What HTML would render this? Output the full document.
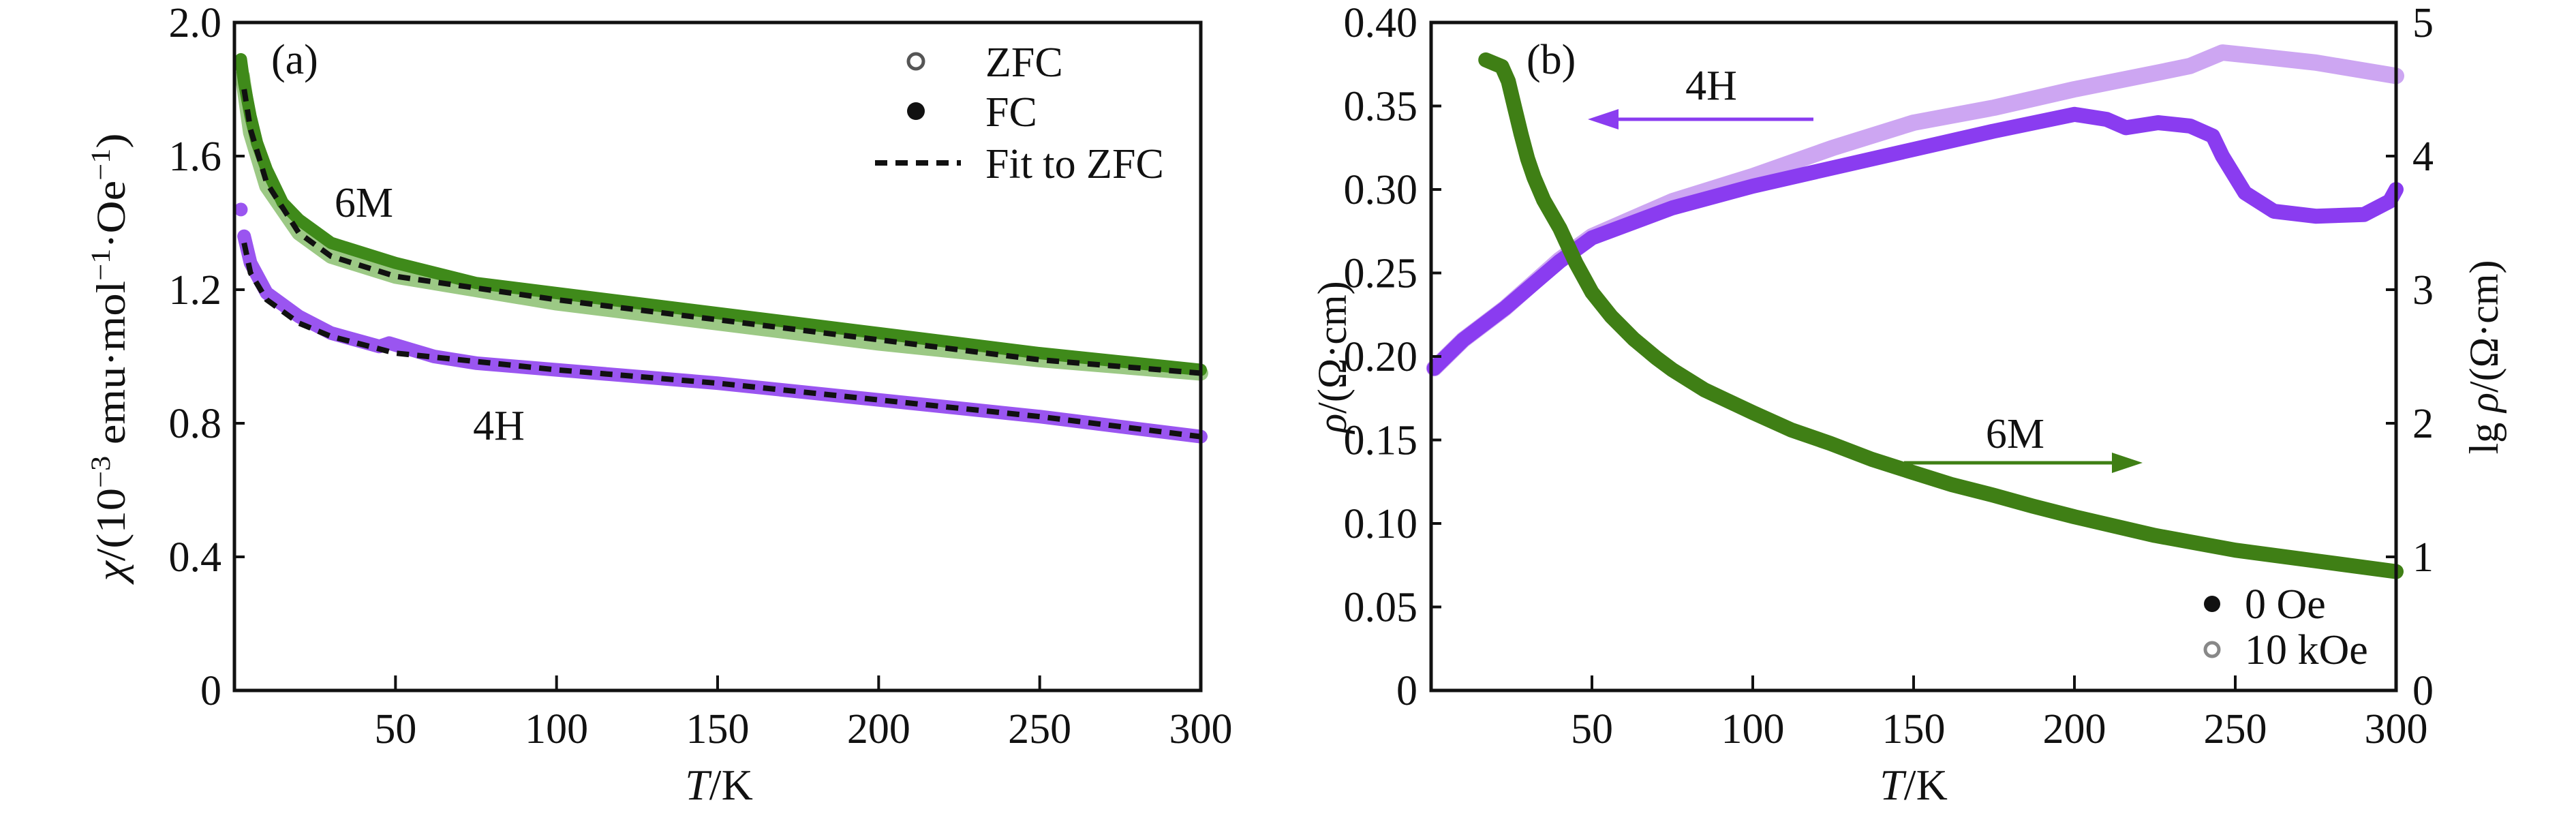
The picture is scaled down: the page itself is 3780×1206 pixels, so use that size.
<!DOCTYPE html>
<html><head><meta charset="utf-8"><style>
html,body{margin:0;padding:0;background:#fff;}
svg text{font-family:"Liberation Serif","Times New Roman","DejaVu Serif","Noto Serif CJK SC",serif;fill:#111;}
</style></head><body>
<svg id="chart" width="3780" height="1201" viewBox="0 0 3780 1201" xmlns="http://www.w3.org/2000/svg"></svg>
<script>
// ---- Panel (a) data ----
const aTicksX = [50,100,150,200,250,300];
const aTicksY = [0,0.4,0.8,1.2,1.6,2.0];
const aTickLabelsY = ["0","0.4","0.8","1.2","1.6","2.0"];
const m6T_fc = [2,3,5,7,10,15,20,30,50,75,100,150,200,250,300];
const m6V_fc = [1.89,1.82,1.72,1.64,1.56,1.46,1.41,1.34,1.28,1.22,1.19,1.13,1.07,1.01,0.96];
const m6T_zfc = [2.5,5,10,20,30,50,100,150,200,250,300];
const m6V_zfc = [1.84,1.67,1.51,1.37,1.30,1.24,1.16,1.10,1.04,0.99,0.95];
const m6T_fit = [3,5,10,20,30,50,100,150,200,250,300];
const m6V_fit = [1.80,1.68,1.52,1.37,1.30,1.24,1.17,1.11,1.05,0.99,0.95];
const h4T = [3,5,10,20,30,45,48,55,62,75,100,150,200,250,300];
const h4V = [1.36,1.28,1.19,1.12,1.07,1.03,1.04,1.02,1.00,0.98,0.96,0.92,0.87,0.82,0.76];
const h4FirstT = [2];
const h4FirstV = [1.44];
const h4T_fit = [3,5,10,20,30,50,100,150,200,250,300];
const h4V_fit = [1.34,1.25,1.17,1.10,1.06,1.01,0.96,0.92,0.87,0.82,0.76];
// ---- Panel (b) data ----
const bTicksX = [50,100,150,200,250,300];
const bTicksYL = [0,0.05,0.10,0.15,0.20,0.25,0.30,0.35,0.40];
const bTickLabelsYL = ["0","0.05","0.10","0.15","0.20","0.25","0.30","0.35","0.40"];
const bTicksYR = [0,1,2,3,4,5];
const m6bT = [17,20,22,24,26,28,30,32,35,40,45,50,56,63,70,75,85,100,112,124,137,150,162,175,187,200,225,250,275,300];
const m6bLg = [4.72,4.69,4.67,4.56,4.36,4.16,3.98,3.84,3.67,3.46,3.20,2.98,2.80,2.63,2.49,2.40,2.25,2.08,1.95,1.85,1.73,1.63,1.54,1.46,1.38,1.30,1.16,1.05,0.97,0.89];
const h4bT0 = [1,10,23,40,50,75,100,150,175,200,210,216,226,236,243,246,253,262,275,290,298,300];
const h4bR0 = [0.193,0.210,0.229,0.257,0.271,0.289,0.302,0.324,0.335,0.345,0.342,0.337,0.340,0.338,0.332,0.320,0.298,0.287,0.284,0.285,0.293,0.300];
const h4bT10 = [1,10,23,40,50,75,100,125,150,175,200,226,236,246,256,275,300];
const h4bR10 = [0.193,0.210,0.229,0.258,0.272,0.293,0.308,0.325,0.340,0.349,0.360,0.370,0.374,0.382,0.380,0.376,0.368];

const svg = document.getElementById('chart');
const NS = "http://www.w3.org/2000/svg";
function mk(tag, attrs, parent){const e=document.createElementNS(NS,tag);for(const k in attrs)e.setAttribute(k,attrs[k]);(parent||svg).appendChild(e);return e;}

const TOP=33, BOT=1013;
const A={x0:344,x1:1762}, B={x0:2100,x1:3516};
function sx(P,t){return P.x0+(t/300)*(P.x1-P.x0);}
const syA=v=>BOT-(v/2.0)*(BOT-TOP);
const syBL=v=>BOT-(v/0.40)*(BOT-TOP);
const syBR=v=>BOT-(v/5)*(BOT-TOP);
function pts(P,ts,vs,sy){return ts.map((t,i)=>sx(P,t).toFixed(1)+","+sy(vs[i]).toFixed(1)).join(" ");}

// ---------- Panel a ----------
let l;
l=mk('polyline',{points:pts(A,m6T_zfc,m6V_zfc,syA),fill:'none',stroke:'#9cc985','stroke-width':22,'stroke-linejoin':'round','stroke-linecap':'round'});

l=mk('polyline',{points:pts(A,m6T_fc,m6V_fc,syA),fill:'none',stroke:'#3f8a1a','stroke-width':18,'stroke-linejoin':'round','stroke-linecap':'round'});

l=mk('polyline',{points:pts(A,h4T,h4V,syA),fill:'none',stroke:'#9a55f0','stroke-width':20,'stroke-linejoin':'round','stroke-linecap':'round'});

h4FirstT.forEach((t,i)=>{const c=mk('circle',{cx:sx(A,t),cy:syA(h4FirstV[i]),r:10,fill:'#9a55f0'});

});
l=mk('polyline',{points:pts(A,m6T_fit,m6V_fit,syA),fill:'none',stroke:'#111','stroke-width':8,'stroke-dasharray':'18 12'});

l=mk('polyline',{points:pts(A,h4T_fit,h4V_fit,syA),fill:'none',stroke:'#111','stroke-width':8,'stroke-dasharray':'18 12'});


function frame(P,name){const r=mk('rect',{x:P.x0,y:TOP,width:P.x1-P.x0,height:BOT-TOP,fill:'none',stroke:'#111','stroke-width':5});
}
frame(A,'plot-frame-a');
aTicksX.forEach(t=>{const x=sx(A,t);mk('line',{x1:x,y1:BOT,x2:x,y2:BOT-22,stroke:'#111','stroke-width':4});
const tx=mk('text',{x:x,y:1090,'font-size':62,'text-anchor':'middle'});tx.textContent=t;

});
aTicksY.forEach((v,i)=>{const y=syA(v);mk('line',{x1:A.x0,y1:y,x2:A.x0+15,y2:y,stroke:'#111','stroke-width':4});
const tx=mk('text',{x:325,y:y+21,'font-size':62,'text-anchor':'end'});tx.textContent=aTickLabelsY[i];

});

svg.insertAdjacentHTML('beforeend', `
<g>
<text x="1055" y="1173" font-size="64" text-anchor="middle"><tspan font-style="italic">T</tspan>/K</text>
<text transform="translate(183,524) rotate(-90)" font-size="60" text-anchor="middle" textLength="657" lengthAdjust="spacingAndGlyphs"><tspan font-style="italic">χ</tspan>/(10<tspan dy="-22" font-size="40">−3</tspan><tspan dy="22"> emu·mol</tspan><tspan dy="-22" font-size="40">−1</tspan><tspan dy="22">·Oe</tspan><tspan dy="-22" font-size="40">−1</tspan><tspan dy="22">)</tspan></text>
<text x="398" y="108" font-size="62">(a)</text>
<text x="534" y="318" font-size="62" text-anchor="middle">6M</text>
<text x="732" y="645" font-size="62" text-anchor="middle">4H</text>
<g>
<circle cx="1344" cy="90" r="11" fill="none" stroke="#555" stroke-width="5"/>
<text x="1446" y="112" font-size="62">ZFC</text>
<circle cx="1344" cy="163" r="13" fill="#111"/>
<text x="1446" y="185" font-size="62">FC</text>
<line x1="1284" y1="239" x2="1410" y2="239" stroke="#111" stroke-width="8" stroke-dasharray="18 12"/>
<text x="1446" y="261" font-size="62">Fit to ZFC</text>
</g>
</g>`);

// ---------- Panel b ----------
l=mk('polyline',{points:pts(B,h4bT10,h4bR10,syBL),fill:'none',stroke:'#cda6f2','stroke-width':24,'stroke-linejoin':'round','stroke-linecap':'round'});

l=mk('polyline',{points:pts(B,h4bT0,h4bR0,syBL),fill:'none',stroke:'#8a3cf0','stroke-width':22,'stroke-linejoin':'round','stroke-linecap':'round'});

l=mk('polyline',{points:pts(B,m6bT,m6bLg,syBR),fill:'none',stroke:'#3f7f15','stroke-width':22,'stroke-linejoin':'round','stroke-linecap':'round'});

frame(B,'plot-frame-b');
bTicksX.forEach(t=>{const x=sx(B,t);mk('line',{x1:x,y1:BOT,x2:x,y2:BOT-22,stroke:'#111','stroke-width':4});
const tx=mk('text',{x:x,y:1090,'font-size':62,'text-anchor':'middle'});tx.textContent=t;

});
bTicksYL.forEach((v,i)=>{const y=syBL(v);mk('line',{x1:B.x0,y1:y,x2:B.x0+15,y2:y,stroke:'#111','stroke-width':4});
const tx=mk('text',{x:2080,y:y+21,'font-size':62,'text-anchor':'end'});tx.textContent=bTickLabelsYL[i];

});
bTicksYR.forEach(v=>{const y=syBR(v);mk('line',{x1:B.x1,y1:y,x2:B.x1-15,y2:y,stroke:'#111','stroke-width':4});
const tx=mk('text',{x:3540,y:y+21,'font-size':62,'text-anchor':'start'});tx.textContent=v;

});

svg.insertAdjacentHTML('beforeend', `
<g>
<text x="2808" y="1173" font-size="64" text-anchor="middle"><tspan font-style="italic">T</tspan>/K</text>
<text transform="translate(1975,524) rotate(-90)" font-size="60" text-anchor="middle"><tspan font-style="italic">ρ</tspan>/(Ω·cm)</text>
<text transform="translate(3665,524) rotate(-90)" font-size="60" text-anchor="middle">lg <tspan font-style="italic">ρ</tspan>/(Ω·cm)</text>
<text x="2240" y="108" font-size="62">(b)</text>
<text x="2511" y="146" font-size="62" text-anchor="middle">4H</text>
<line x1="2661" y1="175" x2="2360" y2="175" stroke="#8a3cf0" stroke-width="5"/>
<polygon points="2330,175 2375,160 2375,190" fill="#8a3cf0"/>
<text x="2957" y="657" font-size="62" text-anchor="middle">6M</text>
<line x1="2794" y1="679" x2="3115" y2="679" stroke="#3f7f15" stroke-width="5"/>
<polygon points="3144,679 3099,664 3099,694" fill="#3f7f15"/>
<g>
<circle cx="3246" cy="886" r="12" fill="#111"/>
<text x="3294" y="907" font-size="62">0 Oe</text>
<circle cx="3246" cy="953" r="10" fill="none" stroke="#888" stroke-width="5"/>
<text x="3294" y="974" font-size="62">10 kOe</text>
</g>
</g>`);
</script>
</body></html>
